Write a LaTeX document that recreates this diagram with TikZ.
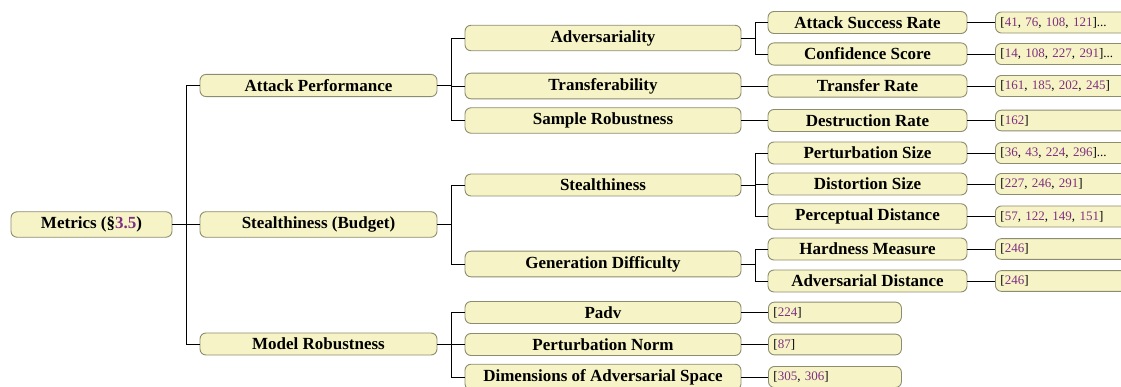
\documentclass[tikz,border=0pt]{standalone}
\usepackage{fontspec}
\setmainfont{Liberation Serif}
\definecolor{boxfill}{RGB}{246,244,198}
\definecolor{boxline}{RGB}{140,140,110}
\definecolor{citecol}{RGB}{128,48,128}
\newcommand{\cc}[1]{\textcolor{citecol}{#1}}
\tikzset{
  tbox/.style={rectangle, rounded corners=6pt, draw=boxline, fill=boxfill,
    line width=0.9pt, inner xsep=0pt, inner ysep=5pt,
    font=\fontsize{17}{20}\selectfont\bfseries, align=center},
  rootbox/.style={tbox, minimum width=161pt},
  lvone/.style={tbox, minimum width=237pt},
  lvtwo/.style={tbox, minimum width=276pt},
  lvthree/.style={tbox, minimum width=199pt},
  refbox/.style={tbox, anchor=west, font=\fontsize{13}{15}\selectfont,
    inner xsep=5pt, align=left},
  refwide/.style={refbox, text width=130pt},
  refnarrow/.style={refbox, text width=123pt},
  link/.style={draw=black, line width=0.9pt},
}
\newcommand{\fork}[2]{\draw[link] (#1.east) -- ++(14pt,0) |- (#2.west);}
\begin{document}
\begin{tikzpicture}[x=1pt,y=1pt]
\useasboundingbox (0,0) rectangle (1121,-387);
\clip (0,0) rectangle (1121,-387);

% root and first level
\node[rootbox] (root) at (91.5,-224.5) {Metrics (§\cc{3.5})};
\node[lvone] (ap) at (318.5,-85.5) {Attack Performance};
\node[lvone] (sb) at (318.5,-224.5) {Stealthiness (Budget)};
\node[lvone] (mr) at (318.5,-344) {Model Robustness};

% second level
\node[lvtwo] (adv) at (603,-38) {Adversariality};
\node[lvtwo] (tra) at (603,-86) {Transferability};
\node[lvtwo] (sr) at (603,-120.5) {Sample Robustness};
\node[lvtwo] (st) at (603,-185) {Stealthiness};
\node[lvtwo] (gd) at (603,-264) {Generation Difficulty};
\node[lvtwo] (padv) at (603,-312.5) {Padv};
\node[lvtwo] (pn) at (603,-344.5) {Perturbation Norm};
\node[lvtwo] (dim) at (603,-377) {Dimensions of Adversarial Space};

% third level
\node[lvthree] (asr) at (867.5,-22.5) {Attack Success Rate};
\node[lvthree] (cs) at (867.5,-54) {Confidence Score};
\node[lvthree] (tr) at (867.5,-86) {Transfer Rate};
\node[lvthree] (dr) at (867.5,-120.5) {Destruction Rate};
\node[lvthree] (ps) at (867.5,-153) {Perturbation Size};
\node[lvthree] (ds) at (867.5,-184) {Distortion Size};
\node[lvthree] (pd) at (867.5,-216.5) {Perceptual Distance};
\node[lvthree] (hm) at (867.5,-249) {Hardness Measure};
\node[lvthree] (ad) at (867.5,-281) {Adversarial Distance};

% references
\node[refwide] (r1) at (995,-22.5) {[\cc{41}, \cc{76}, \cc{108}, \cc{121}]...};
\node[refwide] (r2) at (995,-54) {[\cc{14}, \cc{108}, \cc{227}, \cc{291}]...};
\node[refwide] (r3) at (995,-86) {[\cc{161}, \cc{185}, \cc{202}, \cc{245}]};
\node[refwide] (r4) at (995,-120.5) {[\cc{162}]};
\node[refwide] (r5) at (995,-153) {[\cc{36}, \cc{43}, \cc{224}, \cc{296}]...};
\node[refwide] (r6) at (995,-184) {[\cc{227}, \cc{246}, \cc{291}]};
\node[refwide] (r7) at (995,-216.5) {[\cc{57}, \cc{122}, \cc{149}, \cc{151}]};
\node[refwide] (r8) at (995,-249) {[\cc{246}]};
\node[refwide] (r9) at (995,-281) {[\cc{246}]};
\node[refnarrow] (r10) at (768,-312.5) {[\cc{224}]};
\node[refnarrow] (r11) at (768,-344.5) {[\cc{87}]};
\node[refnarrow] (r12) at (768,-377) {[\cc{305}, \cc{306}]};

% connectors
\fork{root}{ap}
\fork{root}{sb}
\fork{root}{mr}
\fork{ap}{adv}
\fork{ap}{tra}
\fork{ap}{sr}
\fork{sb}{st}
\fork{sb}{gd}
\fork{mr}{padv}
\fork{mr}{pn}
\fork{mr}{dim}
\fork{adv}{asr}
\fork{adv}{cs}
\draw[link] (tra.east) -- (tr.west);
\draw[link] (sr.east) -- (dr.west);
\fork{st}{ps}
\fork{st}{ds}
\fork{st}{pd}
\fork{gd}{hm}
\fork{gd}{ad}
\draw[link] (asr.east) -- (r1.west);
\draw[link] (cs.east) -- (r2.west);
\draw[link] (tr.east) -- (r3.west);
\draw[link] (dr.east) -- (r4.west);
\draw[link] (ps.east) -- (r5.west);
\draw[link] (ds.east) -- (r6.west);
\draw[link] (pd.east) -- (r7.west);
\draw[link] (hm.east) -- (r8.west);
\draw[link] (ad.east) -- (r9.west);
\draw[link] (padv.east) -- (r10.west);
\draw[link] (pn.east) -- (r11.west);
\draw[link] (dim.east) -- (r12.west);
\end{tikzpicture}
\end{document}
